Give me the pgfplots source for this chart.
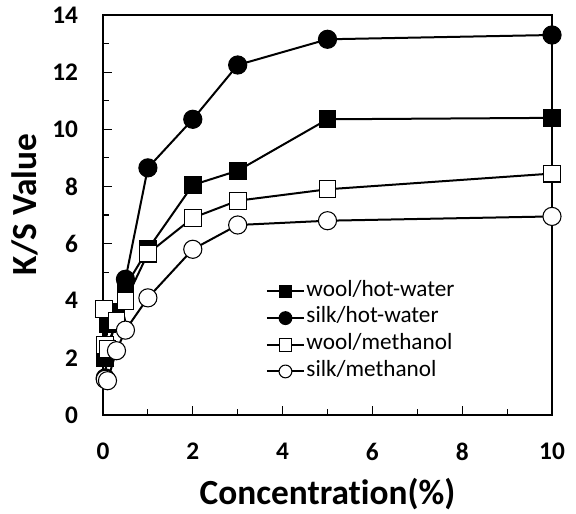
\documentclass[border=0pt]{standalone}
\usepackage{fontspec}
\setmainfont{Carlito}[Ligatures=NoCommon]
\usepackage{pgfplots}
\pgfplotsset{compat=1.18}
\begin{document}
\begin{tikzpicture}
\path[use as bounding box] (-77.25pt,-74.25pt) rectangle (354.75pt,311.25pt);
\begin{axis}[
  scale only axis,
  width=336.75pt, height=300pt,
  xmin=0, xmax=10, ymin=0, ymax=14,
  xtick={0,2,...,10}, minor xtick={1,3,...,9},
  ytick={0,2,...,14}, minor ytick={1,3,...,13},
  tick align=inside,
  xtick pos=bottom, ytick pos=left,
  major tick length=7pt, minor tick length=4.5pt,
  every tick/.style={black, line width=0.8pt},
  axis line style={line width=0.9pt},
  /pgf/number format/assume math mode=true,
  tick label style={font=\fontsize{19}{22}\selectfont\bfseries},
  yticklabel style={inner sep=0pt, anchor=east, xshift=-18.5pt},
  xticklabel style={inner sep=0pt, anchor=north, yshift=-21pt},
  xlabel={Concentration(\%)},
  ylabel={K/S Value},
  label style={font=\fontsize{26.5}{30}\selectfont\bfseries},
  xlabel style={at={([yshift=-67.5pt]axis description cs:0.5,0)}, anchor=base},
  ylabel style={at={([xshift=-49.5pt]axis description cs:0,0.526)}, anchor=base},
  legend style={at={(axis cs:3.62,4.8)}, anchor=north west, draw=none, fill=none,
    inner sep=0pt, font=\fontsize{17.4}{19}\selectfont,
    nodes={inner sep=1pt, text height=12.5pt, text depth=5.5pt}},
  legend cell align=left,
  legend image code/.code={\draw[#1, mark size=4.8pt, mark repeat=2, mark phase=2] plot coordinates {(0pt,0pt) (14pt,0pt) (28pt,0pt)};},
  every axis plot/.append style={black, line width=1.5pt},
]
\addplot[mark=square*, mark size=6.3pt, mark options={fill=black, line width=0.8pt}] coordinates {
 (0.05,2.0) (0.1,3.2) (0.3,3.6) (0.5,4.5) (1,5.8) (2,8.05) (3,8.55) (5,10.35) (10,10.4)};
\addlegendentry{wool/hot-water}
\addplot[mark=*, mark size=6.8pt, mark options={fill=black, line width=0.8pt}] coordinates {
 (0.05,1.3) (0.1,2.4) (0.3,3.3) (0.5,4.75) (1,8.65) (2,10.35) (3,12.25) (5,13.15) (10,13.3)};
\addlegendentry{silk/hot-water}
\addplot[mark=square*, mark size=6.3pt, mark options={fill=white, line width=0.8pt}] coordinates {
 (0.02,3.7) (0.05,2.45) (0.1,2.3) (0.3,3.3) (0.5,4.0) (1,5.65) (2,6.9) (3,7.5) (5,7.9) (10,8.45)};
\addlegendentry{wool/methanol}
\addplot[mark=*, mark size=6.8pt, mark options={fill=white, line width=0.8pt}] coordinates {
 (0.05,1.25) (0.1,1.2) (0.3,2.25) (0.5,2.97) (1,4.1) (2,5.8) (3,6.65) (5,6.8) (10,6.95)};
\addlegendentry{silk/methanol}
\end{axis}
\end{tikzpicture}
\end{document}
